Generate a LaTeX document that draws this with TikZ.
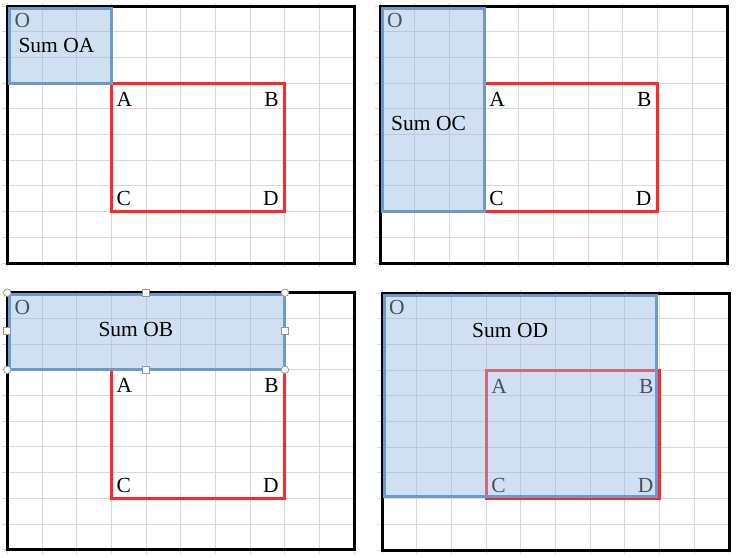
\documentclass[tikz,border=0pt]{standalone}
\usepackage{fontspec}
\setmainfont{Liberation Serif}
\usetikzlibrary{calc}

\definecolor{gridgray}{RGB}{216,216,216}
\definecolor{boxred}{RGB}{255,40,40}
\definecolor{sumblue}{RGB}{108,154,204}
\definecolor{sumfill}{RGB}{150,185,225}
\definecolor{handlegray}{RGB}{150,150,150}

\tikzset{
	gridline/.style={draw=gridgray, line width=0.9pt},
	frame/.style={draw=black, line width=3pt},
	redbox/.style={draw=boxred, line width=3pt},
	sumbox/.style={draw=sumblue, line width=3pt, fill=sumfill, fill opacity=0.45, draw opacity=1},
	lbl/.style={font=\fontsize{21.5}{25}\selectfont, inner sep=0pt},
	handle/.style={draw=handlegray, fill=white, line width=0.8pt, inner sep=0pt},
}

\begin{document}
\begin{tikzpicture}[x=1pt, y=-1pt]
	\useasboundingbox (0,0) rectangle (736,557);

	% the four sheets: grid, frame, region ABCD
	\foreach \i/\px/\py in {1/7.3/6, 2/380/6, 3/7.3/292.7, 4/382/293}{
		\begin{scope}[shift={(\px,\py)}, x=34.7pt, y=-25.7pt]
			\foreach \k in {0,...,10}{
				\draw[gridline] (\k,-0.1) -- (\k,10.15);
				\draw[gridline] (-0.15,\k) -- (10,\k);
			}
			\draw[frame] (0,0) rectangle (10,10);
			\coordinate (O\i) at (0,0);
			\coordinate (A\i) at (3,3);
			\coordinate (B\i) at (8,3);
			\coordinate (C\i) at (3,8);
			\coordinate (D\i) at (8,8);
			\draw[redbox] (A\i) rectangle (D\i);
			\node[lbl, anchor=base west] (la\i) at ([shift={(5pt,-23pt)}]A\i) {A};
			\node[lbl, anchor=base east] (lb\i) at ([shift={(-6pt,-23pt)}]B\i) {B};
			\node[lbl, anchor=base west] (lc\i) at ([shift={(5pt,6pt)}]C\i) {C};
			\node[lbl, anchor=base east] (ld\i) at ([shift={(-6pt,6pt)}]D\i) {D};
			\node[lbl, anchor=base west] (lo\i) at ([shift={(7pt,-21.5pt)}]O\i) {O};
		\end{scope}
	}

	% summed areas
	\draw[sumbox] ([shift={(2pt,-2pt)}]O1) rectangle (A1);
	\node[lbl, anchor=base west] (sumOA) at ([shift={(11pt,-46pt)}]O1) {Sum OA};

	\draw[sumbox] ([shift={(2pt,-2pt)}]O2) rectangle (C2);
	\node[lbl, anchor=base west] (sumOC) at ([shift={(11pt,-124pt)}]O2) {Sum OC};

	\draw[sumbox] ([shift={(2pt,-2pt)}]O3) rectangle (B3);
	\node[lbl, anchor=base west] (sumOB) at ([shift={(91pt,-43.3pt)}]O3) {Sum OB};

	\draw[sumbox] ([shift={(2pt,-2pt)}]O4) rectangle ([shift={(-3pt,2.5pt)}]D4);
	\node[lbl, anchor=base west] (sumOD) at ([shift={(90pt,-44.3pt)}]O4) {Sum OD};

	% selection handles
	\coordinate (tr) at (O3 -| B3);
	\coordinate (bl) at (O3 |- B3);
	\foreach \c in {O3, tr, bl, B3}
		\node[handle, circle, minimum size=7.5pt] at (\c) {};
	\foreach \a/\b in {O3/tr, O3/bl, tr/B3, bl/B3}
		\node[handle, minimum size=7pt] at ($(\a)!.5!(\b)$) {};
\end{tikzpicture}
\end{document}
